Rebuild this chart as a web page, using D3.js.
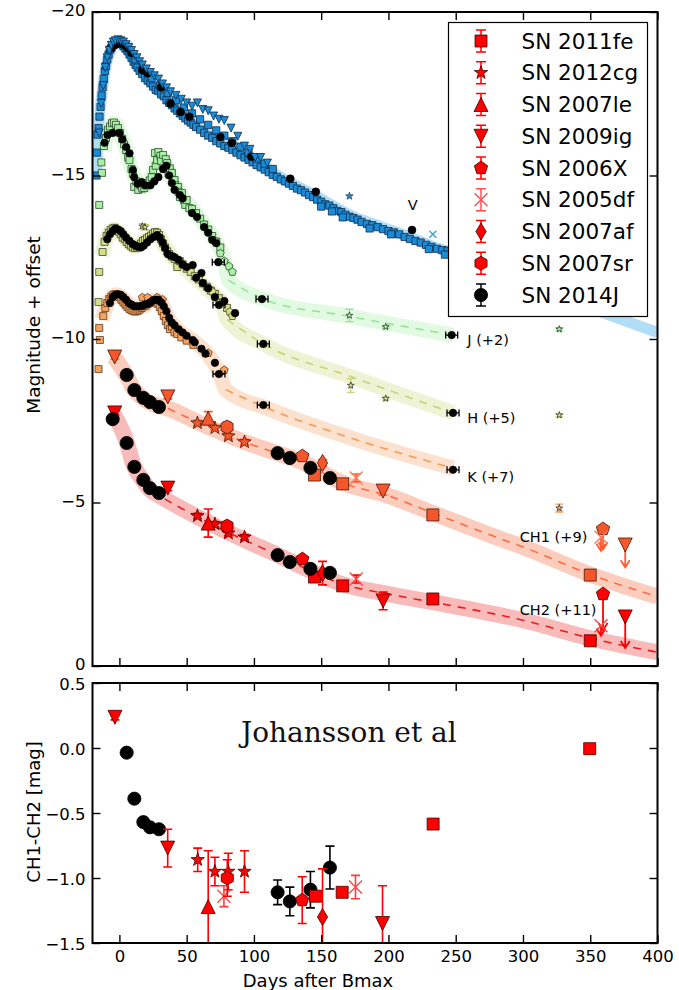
<!DOCTYPE html>
<html>
<head>
<meta charset="utf-8">
<script src="https://cdn.jsdelivr.net/npm/d3@7"></script>
<style>
  body { margin: 0; background: #fff; }
  svg { display: block; }
</style>
</head>
<body>
<svg id="chart" width="679" height="990"></svg>
<script>
// ---------------- axes ticks ----------------
const xTicks = [0, 50, 100, 150, 200, 250, 300, 350, 400];
const yTicksTop = [-20, -15, -10, -5, 0];
const yTicksBot = [0.5, 0.0, -0.5, -1.0, -1.5];

// ---------------- legend ----------------
const snNames   = ['SN 2011fe', 'SN 2012cg', 'SN 2007le', 'SN 2009ig', 'SN 2006X', 'SN 2005df', 'SN 2007af', 'SN 2007sr', 'SN 2014J'];
const snMarkers = ['square', 'star', 'tri_up', 'tri_down', 'pentagon', 'x', 'diamond', 'hexagon', 'circle'];

// ---------------- template bands [day, mag] ----------------
const vBand = [[-17,-15.0],[-15,-16.7],[-13,-17.5],[-10,-18.35],[-6,-18.88],[-2,-19.05],[2,-19.05],[6,-18.9],[10,-18.62],[15,-18.3],[20,-18.05],[25,-17.85],[30,-17.65],[40,-17.25],[50,-16.85],[60,-16.5],[70,-16.22],[80,-16.0],[90,-15.78],[100,-15.5],[110,-15.22],[120,-14.95],[130,-14.72],[145,-14.4],[160,-14.05],[175,-13.72],[190,-13.5],[205,-13.28],[220,-13.05],[235,-12.8],[250,-12.6],[300,-11.78],[350,-10.95],[400,-10.2]];
const jBand = [[-12,-15.75],[-8,-16.4],[-4,-16.6],[0,-16.35],[5,-15.8],[10,-15.1],[15,-14.72],[19,-14.65],[24,-14.98],[29,-15.5],[34,-15.35],[40,-14.85],[47,-14.35],[55,-13.95],[64,-13.45],[73,-12.9],[78,-12.4],[81,-11.8],[107,-11.22],[170,-10.7],[248,-10.12]];
const hBand = [[-13,-12.55],[-9,-13.15],[-4,-13.35],[2,-13.18],[8,-12.9],[12,-12.82],[18,-12.98],[24,-13.15],[28,-13.2],[33,-12.88],[40,-12.48],[48,-12.18],[58,-11.82],[68,-11.45],[76,-11.12],[80,-10.6],[107,-9.85],[172,-8.85],[248,-7.74]];
const kBand = [[-13,-10.6],[-8,-11.15],[-2,-11.35],[4,-11.2],[11,-10.95],[18,-11.0],[25,-11.18],[30,-11.18],[35,-10.75],[40,-10.42],[47,-10.15],[55,-9.95],[62,-9.7],[68,-9.4],[74,-9.0],[79,-8.45],[110,-7.88],[170,-7.0],[248,-6.05]];
const ch1Band = [[-4,-9.45],[5,-8.9],[11,-8.45],[17,-8.2],[22,-8.07],[28,-7.97],[36,-7.88],[58,-7.46],[93,-6.85],[118,-6.5],[135,-6.25],[166,-5.6],[200,-5.2],[233,-4.68],[280,-3.94],[300,-3.64],[350,-2.8],[400,-2.12]];
const ch2Band = [[-5,-7.75],[5,-6.9],[10.5,-6.15],[17,-5.7],[23,-5.38],[30,-5.2],[58,-4.56],[93,-3.85],[118,-3.39],[135,-3.05],[166,-2.5],[200,-2.2],[233,-1.95],[280,-1.58],[300,-1.4],[350,-0.85],[400,-0.42]];
// day from which each template is drawn dashed
const jDashFrom = 81, hDashFrom = 80, kDashFrom = 79, ch1DashFrom = 30, ch2DashFrom = 15;

// ---------------- V band photometry ----------------
const vSquares = [[-17,-15.0],[-16.8,-15.7],[-16.2,-16.25],[-15.5,-16.45],[-14.8,-16.8],[-14,-17.1],[-13.2,-17.45],[-12.5,-17.7],[-11.6,-17.95],[-10.8,-18.2],[-10,-18.35],[-9,-18.55],[-8,-18.7],[-7,-18.85],[-6,-18.9],[-5,-18.98],[-4,-19.02],[-3,-19.05],[-1.5,-19.08],[0,-19.04],[1.5,-19.02],[3,-18.95],[4.5,-18.88],[6,-18.8],[7.5,-18.7],[9,-18.6],[10.5,-18.48],[12,-18.38],[13.5,-18.3],[15,-18.2],[17,-18.1],[19,-17.98],[21,-17.9],[23,-17.82],[25,-17.72],[27,-17.62],[29,-17.58],[31,-17.48],[33,-17.42],[35,-17.3],[37,-17.22],[39,-17.15],[41,-17.05],[43,-16.98],[45,-16.9],[47,-16.82],[49,-16.75],[51,-16.68],[53,-16.62],[55,-16.55],[57,-16.48],[60,-16.4],[63,-16.3],[66,-16.22],[69,-16.15],[72,-16.05],[75,-15.98],[78,-15.9],[81,-15.85],[84,-15.78],[87,-15.7],[90,-15.62],[93,-15.55],[96,-15.48],[99,-15.4],[102,-15.32],[105,-15.25],[108,-15.18],[111,-15.1],[114,-15.02],[117,-14.96],[120,-14.88],[123,-14.82],[126,-14.75],[129,-14.68],[132,-14.6],[135,-14.55],[138,-14.48],[141,-14.4],[144,-14.34],[147,-14.26],[150,-14.2],[153,-14.12],[156,-14.08],[159,-14.0],[162,-13.92],[165,-13.88],[168,-13.8],[171,-13.74],[174,-13.7],[177,-13.65],[180,-13.58],[184,-13.52],[188,-13.48],[192,-13.42],[196,-13.36],[200,-13.3],[204,-13.26],[208,-13.2],[212,-13.12],[216,-13.06],[220,-13.0],[224,-12.95],[228,-12.88],[232,-12.82],[236,-12.76],[240,-12.72],[244,-12.7],[248,-12.66],
  [12,-18.55],[18,-18.25],[24,-17.98],[30,-17.75],[36,-17.52],[42,-17.3],[48,-17.08],[54,-16.9],[60,-16.72],[66,-16.55],[72,-16.38],[78,-16.22],[84,-16.05],[90,-15.88],[96,-15.7],[102,-15.52],[108,-15.36],[114,-15.2],[150,-14.05],[158,-13.9],[166,-13.72],[186,-13.38],[202,-13.2],[230,-12.75],[242,-12.58]];
const vTriangles = [[-15,-16.3],[-13.5,-17.2],[-12,-17.75],[-10.5,-18.3],[-9,-18.6],[-7.5,-18.82],[-6,-18.98],[-4.5,-19.08],[-3,-19.12],[-1,-19.15],[1,-19.12],[3,-19.08],[5,-19.0],[7,-18.92],[9,-18.82],[11,-18.7],[13,-18.6],[15,-18.48],[17,-18.38],[20,-18.26],[23,-18.15],[26,-18.05],[29,-17.95],[32,-17.8],[35,-17.68],[38,-17.56],[42,-17.45],[46,-17.33],[50,-17.22],[54,-17.12],[58,-17.22],[62,-17.02],[66,-16.98],[70,-16.82],[74,-16.72],[78,-16.68],[83,-16.45],[88,-16.2],[93,-15.9],[97,-15.8],[101,-15.55],[105,-15.55],[110,-15.38]];
const vBlack = [[-6,-18.9],[-3,-19.0],[0,-19.05],[3,-19.0],[6,-18.9],[9,-18.75],[17,-18.23],[21,-18.13],[31,-17.7],[38,-17.2],[45.5,-16.94],[52,-16.8],[75,-16.18],[83.5,-16.0],[98,-15.57],[127,-14.9],[146,-14.5],[217.5,-13.33]];
const vStars = [[171,-14.37]];
const vCrosses = [[233,-13.2]];

// ---------------- J (+2) ----------------
const jSquares = [[-15,-14.1],[-13.4,-15.4],[-13,-15.08],[-11.5,-15.9],[-10,-16.15],[-8.5,-16.4],[-7,-16.5],[-5.5,-16.6],[-4,-16.62],[-2.5,-16.55],[-1,-16.45],[0.5,-16.3],[2,-16.12],[3.5,-15.95],[5,-15.78],[6.5,-15.55],[7.5,-15.47],[9,-15.2],[10,-15.05],[11,-14.65],[12.5,-14.82],[14,-14.56],[15.5,-14.7],[17,-14.6],[18.5,-14.62],[20,-14.7],[21,-14.77],[22.5,-14.85],[24,-14.95],[25,-15.17],[26.4,-15.69],[27,-15.3],[28,-15.47],[29,-15.72],[30.5,-15.6],[31,-15.45],[32.5,-15.63],[33,-15.2],[34.5,-15.5],[35.5,-15.38],[36.5,-15.05],[37.5,-15.22],[39,-15.08],[39.5,-14.85],[41,-14.86],[41.5,-14.7],[43.6,-14.65],[44,-14.5],[45,-14.34],[46.5,-14.46],[48,-14.25],[49,-14.1],[50,-14.25],[52,-14.0],[54,-13.98],[57,-13.85],[60,-13.68],[63,-13.5],[66,-13.35],[69,-13.15],[72,-12.98],[75,-12.8]];
const jPentagons = [[71,-13.0],[75,-12.62],[78,-12.38],[81.5,-12.22],[84,-12.05]];
const jBlack = [[-11,-16.0],[-8.8,-16.24],[-5,-16.3],[0,-16.3],[2.3,-16.1],[5,-15.87],[7.5,-15.68],[10,-15.17],[11,-14.95],[13.5,-14.75],[16.5,-14.8],[19,-14.7],[23,-14.7],[26,-14.82],[29,-14.95],[32.5,-15.2],[35,-15.3],[37,-15.0],[39,-14.77],[41,-14.56],[45,-14.4],[47,-14.3],[54,-13.85],[57.7,-13.73],[63,-13.42],[66,-13.25],[69,-13.03],[72,-12.93]];
const jBlackErr = [[73.5,-12.35],[106,-11.22],[247,-10.12]];
const jStars = [[171,-10.72,0.19],[198,-10.37,0.04],[327,-10.3,0.05]];

// ---------------- H (+5) ----------------
const hSquares = [[-15,-12.05],[-15.5,-11.13],[-12.5,-12.66],[-11,-12.97],[-9.5,-13.15],[-8,-13.25],[-6.5,-13.33],[-5,-13.38],[-3.5,-13.4],[-2,-13.32],[-0.5,-13.28],[1,-13.2],[2.5,-13.1],[4,-13.05],[5.5,-12.97],[7,-12.9],[8.5,-12.85],[10,-12.8],[11.5,-12.78],[13,-12.8],[14.5,-12.86],[16,-12.92],[17.5,-13.0],[19,-13.03],[20.5,-13.08],[22,-13.12],[23.5,-13.16],[25,-13.22],[26.5,-13.27],[28,-13.25],[29.5,-13.18],[31,-13.05],[32.5,-12.92],[34,-12.8],[35.5,-12.68],[37,-12.6],[39,-12.52],[41,-12.45],[43,-12.2],[45,-12.38],[47,-12.28],[50,-12.15],[53,-12.05],[56,-11.92],[59,-11.82],[62,-11.7],[65,-11.6],[68,-11.48],[71,-11.38],[74,-11.25],[77,-11.12],[80,-10.95]];
const hPentagons = [[66,-11.56],[69,-11.45],[82,-10.83],[84,-10.7]];
const hBlack = [[-9,-13.05],[-7,-13.2],[-5,-13.3],[-3,-13.38],[-1,-13.35],[1,-13.3],[3,-13.2],[5,-13.1],[7.5,-13.0],[10,-12.9],[12,-12.85],[14,-12.82],[16,-12.8],[18,-12.85],[20.5,-12.95],[23,-13.05],[25.5,-13.12],[28,-13.18],[30,-13.1],[32,-12.95],[34,-12.78],[36,-12.6],[38,-12.55],[41,-12.5],[44,-12.42],[47,-12.28],[50,-12.2],[54.5,-12.26],[57,-11.87],[61,-12.02],[62,-11.71],[66,-11.55],[71,-11.28],[78,-11.16],[86,-10.79]];
const hBlackErr = [[74,-11.04],[107,-9.85],[248,-7.74]];
const hStars = [[17,-13.45,0.08],[19,-13.42,0.08],[172,-8.58,0.21],[198,-8.18,0.04],[327,-7.67,0.05]];

// ---------------- K (+7) ----------------
const kSquares = [[-15,-10.34],[-14.5,-9.97],[-15.5,-9.08],[-12,-10.7],[-10.5,-10.95],[-9,-11.1],[-7.5,-11.22],[-6,-11.3],[-4.5,-11.35],[-3,-11.37],[-1.5,-11.33],[0,-11.28],[1.5,-11.2],[3,-11.12],[4.5,-11.05],[6,-10.98],[7.5,-10.92],[9,-10.88],[10.5,-10.85],[12,-10.84],[13.5,-10.86],[15,-10.9],[16.5,-10.95],[18,-11.0],[19.5,-11.02],[21,-11.07],[22.5,-11.1],[24,-11.15],[25.5,-11.18],[27,-11.15],[28.5,-11.08],[30,-10.98],[31.5,-10.85],[33,-10.7],[34.5,-10.55],[36,-10.42],[37.5,-10.3],[39,-10.38],[41,-10.2],[43,-10.15],[46,-10.05],[50,-9.95],[55,-9.82]];
const kPentagons = [[17,-11.27],[21,-11.27],[28,-11.27],[32,-11.2],[66,-9.57],[78,-9.05]];
const kBlack = [[-7,-11.1],[-5,-11.28],[-3,-11.35],[-1,-11.37],[1,-11.35],[3,-11.28],[5,-11.2],[7,-11.1],[9,-11.05],[11,-11.0],[13,-11.0],[15,-11.0],[17,-11.02],[19,-11.05],[21,-11.08],[23,-11.12],[25,-11.18],[27,-11.2],[29,-11.2],[31,-11.12],[33,-11.0],[35,-10.85],[37,-10.65],[39,-10.5],[41,-10.42],[44,-10.3],[47,-10.2],[50,-10.1],[54.5,-9.97],[56,-9.9],[61,-9.7],[64,-9.55],[71,-9.27]];
const kBlackErr = [[74,-8.93],[107,-7.98],[248,-6.0]];
const kStars = [[327,-4.83,0.12]];

// ---------------- Spitzer CH1 (+9) / CH2 (+11): [SN, day, mag, err] ----------------
const ch1Points = [
  ['SN 2009ig', -3.5, -9.45, 0.06], ['SN 2009ig', 36, -8.23, 0.06], ['SN 2009ig', 196, -5.35, 0.12],
  ['SN 2012cg', 58, -7.43, 0.08], ['SN 2012cg', 71, -7.28, 0.08], ['SN 2012cg', 81, -7.03, 0.08], ['SN 2012cg', 93, -6.85, 0.08],
  ['SN 2007le', 66, -7.58, 0.2], ['SN 2007sr', 80, -7.31, 0.15],
  ['SN 2006X', 136, -6.42, 0.08], ['SN 2007af', 151, -6.21, 0.1], ['SN 2005df', 176, -5.75, 0.12],
  ['SN 2011fe', 145, -5.84, 0], ['SN 2011fe', 166, -5.57, 0], ['SN 2011fe', 233, -4.62, 0], ['SN 2011fe', 350, -2.78, 0],
  ['SN 2014J', 5.4, -8.9, 0], ['SN 2014J', 11.1, -8.44, 0], ['SN 2014J', 17.8, -8.2, 0], ['SN 2014J', 22.7, -8.07, 0], ['SN 2014J', 29.4, -7.92, 0],
  ['SN 2014J', 117.6, -6.51, 0], ['SN 2014J', 126.7, -6.36, 0], ['SN 2014J', 142, -6.06, 0], ['SN 2014J', 156.5, -5.75, 0]
];
const ch2Points = [
  ['SN 2009ig', -3.5, -7.74, 0.06], ['SN 2009ig', 36, -5.44, 0.08], ['SN 2009ig', 196, -1.99, 0.27],
  ['SN 2012cg', 58, -4.59, 0.08], ['SN 2012cg', 71, -4.34, 0.08], ['SN 2012cg', 81, -4.06, 0.08], ['SN 2012cg', 93, -3.94, 0.08],
  ['SN 2007le', 66, -4.37, 0.43], ['SN 2007sr', 80, -4.28, 0.12],
  ['SN 2006X', 136, -3.27, 0.08], ['SN 2007af', 151, -2.84, 0.36], ['SN 2005df', 176, -2.66, 0.12],
  ['SN 2011fe', 145, -2.72, 0], ['SN 2011fe', 166, -2.45, 0], ['SN 2011fe', 233, -2.05, 0], ['SN 2011fe', 350, -0.77, 0],
  ['SN 2014J', -5, -7.55, 0], ['SN 2014J', 5.4, -6.82, 0], ['SN 2014J', 11.1, -6.09, 0], ['SN 2014J', 17.8, -5.69, 0], ['SN 2014J', 22.7, -5.44, 0], ['SN 2014J', 29.4, -5.29, 0],
  ['SN 2014J', 117.6, -3.39, 0], ['SN 2014J', 126.7, -3.18, 0], ['SN 2014J', 142, -2.97, 0], ['SN 2014J', 156.5, -2.85, 0]
];
// upper limits: [SN, day, mag, arrow length in mag]
const ch1Limits = [['SN 2006X', 359.5, -4.19, 0.62], ['SN 2005df', 358, -3.94, 0.42], ['SN 2009ig', 376, -3.7, 0.68]];
const ch2Limits = [['SN 2006X', 359.5, -2.2, 1.1], ['SN 2005df', 358, -1.23, 0.3], ['SN 2009ig', 376, -1.5, 0.95]];

// ---------------- CH1 - CH2 colour: [SN, day, colour, err] ----------------
const diffPoints = [
  ['SN 2014J', 5.4, -0.036, 0], ['SN 2014J', 11.1, -0.39, 0], ['SN 2014J', 17.8, -0.57, 0], ['SN 2014J', 22.7, -0.61, 0], ['SN 2014J', 29.4, -0.625, 0],
  ['SN 2014J', 117.6, -1.11, 0.095], ['SN 2014J', 126.7, -1.18, 0.11], ['SN 2014J', 142, -1.09, 0.14], ['SN 2014J', 156.5, -0.92, 0.165],
  ['SN 2009ig', -3.3, 0.236, 0.02], ['SN 2009ig', 35.9, -0.77, 0.145], ['SN 2009ig', 195.6, -1.35, 0.29],
  ['SN 2012cg', 58.2, -0.86, 0.09], ['SN 2012cg', 71, -0.95, 0.11], ['SN 2012cg', 80.9, -0.95, 0.14], ['SN 2012cg', 93, -0.95, 0.16],
  ['SN 2007le', 66, -1.22, 0.43],
  ['SN 2005df', 77.7, -1.14, 0.08], ['SN 2005df', 175.5, -1.07, 0.09],
  ['SN 2007sr', 80.2, -1.0, 0.14],
  ['SN 2006X', 135.9, -1.17, 0.18],
  ['SN 2007af', 151, -1.3, 0.37],
  ['SN 2011fe', 145.8, -1.14, 0], ['SN 2011fe', 165.6, -1.11, 0], ['SN 2011fe', 233.2, -0.585, 0], ['SN 2011fe', 349.6, -0.005, 0.03]
];

// text anchors placed in data units: [text, day, mag]
const bandLabels = [['V', 218.1, -14.1], ['J (+2)', 258.6, -9.97], ['H (+5)', 258.6, -7.58], ['K (+7)', 258.6, -5.79], ['CH1 (+9)', 297.6, -3.955], ['CH2 (+11)', 297.6, -1.713]];

// =====================================================================
const svg = d3.select('#chart');
const FONT = 'DejaVu Sans, Liberation Sans, sans-serif';

const x = d3.scaleLinear().domain([-20, 400]).range([92.5, 657.5]);
const yTop = d3.scaleLinear().domain([-20, 0]).range([12, 666]);
const yBot = d3.scaleLinear().domain([0.5, -1.5]).range([683, 943]);

const COL = {
  V:   { fill: '#1c8bd6', stroke: '#0c2c4c', band: 'rgba(125,198,240,0.6)' },
  J:   { fill: '#a8f0a4', stroke: '#2e4a2e', band: 'rgba(165,238,165,0.32)', dash: '#94e494' },
  H:   { fill: '#d6dd8a', stroke: '#48482a', band: 'rgba(212,222,140,0.36)', dash: '#c9d274' },
  K:   { fill: '#f7a25c', stroke: '#5a3a20', band: 'rgba(250,180,135,0.40)', dash: '#f79a55' },
  CH1: { fill: '#f4572b', stroke: '#4a1508', err: '#ff5a30', cross: '#ff7a5a', band: 'rgba(250,160,128,0.52)', dash: '#ff6a40' },
  CH2: { fill: '#ff0000', stroke: '#4a0000', err: '#ff0000', cross: '#ff4a4a', band: 'rgba(244,130,130,0.55)', dash: '#ee1a1a' }
};

// marker outlines, centred on the origin
function shape(type, r) {
  const poly = (n, rr) => d3.range(n).map(i => {
    const a = -Math.PI / 2 + i * 2 * Math.PI / n;
    return [rr * Math.cos(a), rr * Math.sin(a)];
  });
  const toPath = pts => 'M' + pts.map(p => p[0].toFixed(2) + ',' + p[1].toFixed(2)).join('L') + 'Z';
  switch (type) {
    case 'square':   return `M${-r},${-r}H${r}V${r}H${-r}Z`;
    case 'circle':   return `M${r},0A${r},${r} 0 1,1 ${-r},0A${r},${r} 0 1,1 ${r},0Z`;
    case 'tri_up':   return `M0,${-r}L${r},${r}L${-r},${r}Z`;
    case 'tri_down': return `M0,${r}L${r},${-r}L${-r},${-r}Z`;
    case 'pentagon': return toPath(poly(5, r));
    case 'hexagon':  return toPath(poly(6, r));
    case 'diamond':  return `M0,${-r}L${0.6 * r},0L0,${r}L${-0.6 * r},0Z`;
    case 'star': {
      const pts = d3.range(10).map(i => {
        const a = -Math.PI / 2 + i * Math.PI / 5, rr = i % 2 ? r * 0.4 : r;
        return [rr * Math.cos(a), rr * Math.sin(a)];
      });
      return toPath(pts);
    }
    case 'x': return `M${-r},${-r}L${r},${r}M${r},${-r}L${-r},${r}`;
  }
}
const markerSize = { square: 6, circle: 6.6, tri_up: 7, tri_down: 7, pentagon: 7, hexagon: 7, diamond: 8.5, star: 7, x: 6.5 };

function drawPts(g, pts, yS, o) {
  const isX = o.type === 'x';
  g.append('g').selectAll('path').data(pts).join('path')
    .attr('transform', d => `translate(${x(d[0])},${yS(d[1])})`)
    .attr('d', shape(o.type, o.r))
    .attr('fill', isX ? 'none' : o.fill)
    .attr('stroke', isX ? o.fill : o.stroke)
    .attr('stroke-width', isX ? 1.4 : (o.sw || 0.8));
}

function drawErr(g, day, val, err, yS, color, cap, sw) {
  if (!err) return;
  const cx = x(day), y1 = yS(val - err), y2 = yS(val + err);
  g.append('path')
    .attr('d', `M${cx},${y1}V${y2}M${cx - cap},${y1}H${cx + cap}M${cx - cap},${y2}H${cx + cap}`)
    .attr('stroke', color).attr('stroke-width', sw || 1.5).attr('fill', 'none');
}

// black photometry points carrying a short horizontal error bar
function drawHErr(g, pts, yS) {
  g.append('g').selectAll('path').data(pts).join('path')
    .attr('d', d => {
      const cx = x(d[0]), cy = yS(d[1]);
      return `M${cx - 6},${cy}H${cx + 6}M${cx - 6},${cy - 3.5}V${cy + 3.5}M${cx + 6},${cy - 3.5}V${cy + 3.5}`;
    })
    .attr('stroke', '#000').attr('stroke-width', 1.3).attr('fill', 'none');
  drawPts(g, pts, yS, { type: 'circle', r: 3.8, fill: '#000', stroke: '#000', sw: 0.5 });
}

const bandLine = yS => d3.line().x(d => x(d[0])).y(d => yS(d[1])).curve(d3.curveMonotoneX);

function drawBand(g, band, yS, color, width, dashFrom, dashColor) {
  g.append('path').attr('d', bandLine(yS)(band))
    .attr('fill', 'none').attr('stroke', color).attr('stroke-width', width)
    .attr('stroke-linejoin', 'round');
  if (dashFrom !== undefined) {
    g.append('path').attr('d', bandLine(yS)(band.filter(d => d[0] >= dashFrom)))
      .attr('fill', 'none').attr('stroke', dashColor).attr('stroke-width', 1.6)
      .attr('stroke-dasharray', '8,7');
  }
}

// ---------------- clip regions ----------------
const defs = svg.append('defs');
defs.append('clipPath').attr('id', 'clipTop').append('rect')
  .attr('x', 92.5).attr('y', 12).attr('width', 565).attr('height', 654);
defs.append('clipPath').attr('id', 'clipBot').append('rect')
  .attr('x', 92.5).attr('y', 683).attr('width', 565).attr('height', 260);

// =============== TOP PANEL ===============
const topG = svg.append('g').attr('clip-path', 'url(#clipTop)');

// templates
drawBand(topG, vBand, yTop, COL.V.band, 11);
drawBand(topG, jBand, yTop, COL.J.band, 15, jDashFrom, COL.J.dash);
drawBand(topG, hBand, yTop, COL.H.band, 15, hDashFrom, COL.H.dash);
drawBand(topG, kBand, yTop, COL.K.band, 15, kDashFrom, COL.K.dash);
drawBand(topG, ch1Band, yTop, COL.CH1.band, 16, ch1DashFrom, COL.CH1.dash);
drawBand(topG, ch2Band, yTop, COL.CH2.band, 16, ch2DashFrom, COL.CH2.dash);

// V
drawPts(topG, vSquares, yTop, { type: 'square', r: 3.6, fill: COL.V.fill, stroke: COL.V.stroke });
drawPts(topG, vBlack, yTop, { type: 'circle', r: 4, fill: '#000', stroke: '#000', sw: 0.5 });
drawPts(topG, vTriangles, yTop, { type: 'tri_down', r: 4, fill: COL.V.fill, stroke: COL.V.stroke });
drawPts(topG, vStars, yTop, { type: 'star', r: 4, fill: COL.V.fill, stroke: COL.V.stroke, sw: 0.6 });
drawPts(topG, vCrosses, yTop, { type: 'x', r: 3.5, fill: '#3aa0e8' });

// J, H, K
[[jSquares, jPentagons, jBlack, jBlackErr, jStars, COL.J],
 [hSquares, hPentagons, hBlack, hBlackErr, hStars, COL.H],
 [kSquares, kPentagons, kBlack, kBlackErr, kStars, COL.K]].forEach(([sq, pe, bl, be, st, c]) => {
  drawPts(topG, sq, yTop, { type: 'square', r: 3.5, fill: c.fill, stroke: c.stroke, sw: 0.8 });
  drawPts(topG, pe, yTop, { type: 'pentagon', r: 4.2, fill: c.fill, stroke: c.stroke, sw: 0.8 });
  drawPts(topG, bl, yTop, { type: 'circle', r: 3.8, fill: '#000', stroke: '#000', sw: 0.5 });
  drawHErr(topG, be, yTop);
  st.forEach(d => drawErr(topG, d[0], d[1], d[2], yTop, c.dash, 4, 1.3));
  drawPts(topG, st, yTop, { type: 'star', r: 3.6, fill: c.fill, stroke: '#222', sw: 0.7 });
});

// Spitzer channels
function drawChannel(g, pts, limits, c) {
  const order = snNames.filter(n => n !== 'SN 2014J').concat(['SN 2014J']);
  order.forEach(name => {
    const type = snMarkers[snNames.indexOf(name)];
    const sel = pts.filter(p => p[0] === name);
    const black = name === 'SN 2014J';
    sel.forEach(p => drawErr(g, p[1], p[2], p[3], yTop, black ? '#000' : c.err, 4.5, 1.6));
    drawPts(g, sel.map(p => [p[1], p[2]]), yTop, {
      type, r: markerSize[type],
      fill: black ? '#000' : (type === 'x' ? c.cross : c.fill),
      stroke: black ? '#000' : c.stroke, sw: 0.8
    });
  });
  limits.forEach(([name, day, mag, len]) => {
    const type = snMarkers[snNames.indexOf(name)];
    const cx = x(day), y0 = yTop(mag), y1 = yTop(mag + len);
    g.append('path')
      .attr('d', `M${cx},${y0}V${y1}M${cx - 4.5},${y1 - 7}L${cx},${y1}L${cx + 4.5},${y1 - 7}`)
      .attr('stroke', c.err).attr('stroke-width', 1.8).attr('fill', 'none');
    drawPts(g, [[day, mag]], yTop, {
      type, r: markerSize[type], fill: type === 'x' ? c.cross : c.fill, stroke: c.stroke, sw: 0.8
    });
  });
}
drawChannel(topG, ch1Points, ch1Limits, COL.CH1);
drawChannel(topG, ch2Points, ch2Limits, COL.CH2);

// band labels
svg.append('g').selectAll('text').data(bandLabels).join('text')
  .attr('x', d => x(d[1])).attr('y', d => yTop(d[2]))
  .attr('dy', '0.36em')
  .attr('text-anchor', d => d[0] === 'V' ? 'middle' : 'start')
  .attr('font-family', FONT).attr('font-size', 14.5).attr('fill', '#000')
  .text(d => d[0]);

// =============== BOTTOM PANEL ===============
const botG = svg.append('g').attr('clip-path', 'url(#clipBot)');
const botOrder = ['SN 2014J'].concat(snNames.filter(n => n !== 'SN 2014J'));
botOrder.forEach(name => {
  const type = snMarkers[snNames.indexOf(name)];
  const sel = diffPoints.filter(p => p[0] === name);
  const black = name === 'SN 2014J';
  const ec = black ? '#000' : (type === 'x' ? '#ff3a3a' : '#ff0000');
  sel.forEach(p => drawErr(botG, p[1], p[2], p[3], yBot, ec, 4.5, 1.6));
  drawPts(botG, sel.map(p => [p[1], p[2]]), yBot, {
    type, r: markerSize[type],
    fill: black ? '#000' : (type === 'x' ? '#ff4a4a' : '#ff0000'),
    stroke: black ? '#000' : '#4a0000', sw: 0.8
  });
});

svg.append('text')
  .attr('x', 241).attr('y', 741.5)
  .attr('font-family', 'DejaVu Serif, Liberation Serif, serif')
  .attr('font-size', 28).attr('fill', '#111')
  .text('Johansson et al');

// =============== AXES ===============
function styleAxis(g) {
  g.select('.domain').remove();
  g.selectAll('.tick line').attr('stroke', '#000').attr('stroke-width', 1.4);
  g.selectAll('.tick text').attr('font-family', FONT).attr('font-size', 16.5).attr('fill', '#000');
}
function frame(y0, y1, yS, yTicks, yFmt, showX, labelShift) {
  svg.append('g').attr('transform', `translate(92.5,0)`)
    .call(d3.axisLeft(yS).tickValues(yTicks).tickSize(-8).tickPadding(7).tickFormat(yFmt))
    .call(styleAxis)
    .call(g => g.selectAll('.tick text').attr('dy', labelShift));
  svg.append('g').attr('transform', `translate(657.5,0)`)
    .call(d3.axisRight(yS).tickValues(yTicks).tickSize(-8).tickFormat(''))
    .call(styleAxis);
  svg.append('g').attr('transform', `translate(0,${y0})`)
    .call(d3.axisTop(x).tickValues(xTicks).tickSize(-8).tickFormat(''))
    .call(styleAxis);
  svg.append('g').attr('transform', `translate(0,${y1})`)
    .call(d3.axisBottom(x).tickValues(xTicks).tickSize(-8).tickPadding(7).tickFormat(showX ? d3.format('d') : ''))
    .call(styleAxis);
  svg.append('rect').attr('x', 92.5).attr('y', y0).attr('width', 565).attr('height', y1 - y0)
    .attr('fill', 'none').attr('stroke', '#000').attr('stroke-width', 2);
}
frame(12, 666, yTop, yTicksTop, d3.format('d'), false, '0.22em');
frame(683, 943, yBot, yTicksBot, d3.format('.1f'), true, '0.42em');

// axis titles
svg.append('text').attr('transform', 'translate(40,325) rotate(-90)')
  .attr('text-anchor', 'middle').attr('font-family', FONT).attr('font-size', 18.5)
  .text('Magnitude + offset');
svg.append('text').attr('transform', 'translate(40,812) rotate(-90)')
  .attr('text-anchor', 'middle').attr('font-family', FONT).attr('font-size', 18)
  .text('CH1-CH2 [mag]');
svg.append('text').attr('x', 318).attr('y', 987)
  .attr('text-anchor', 'middle').attr('font-family', FONT).attr('font-size', 18)
  .text('Days after Bmax');

// =============== LEGEND ===============
const leg = svg.append('g');
leg.append('rect').attr('x', 448.5).attr('y', 22.5).attr('width', 199).attr('height', 294)
  .attr('fill', '#fff').attr('stroke', '#000').attr('stroke-width', 1.2);
snNames.forEach((name, i) => {
  const cy = 41 + i * 31.75, cx = 481;
  const type = snMarkers[i];
  const black = name === 'SN 2014J';
  const ec = black ? '#000' : (type === 'x' ? '#ff5050' : '#ff0000');
  leg.append('path')
    .attr('d', `M${cx},${cy - 11}V${cy + 11}M${cx - 5},${cy - 11}H${cx + 5}M${cx - 5},${cy + 11}H${cx + 5}`)
    .attr('stroke', ec).attr('stroke-width', 1.5).attr('fill', 'none');
  leg.append('path').attr('transform', `translate(${cx},${cy})`)
    .attr('d', shape(type, markerSize[type]))
    .attr('fill', type === 'x' ? 'none' : (black ? '#000' : '#ff0000'))
    .attr('stroke', type === 'x' ? '#ff5050' : (black ? '#000' : '#4a0000'))
    .attr('stroke-width', type === 'x' ? 1.4 : 0.8);
  leg.append('text').attr('x', 521.5).attr('y', cy).attr('dy', '0.36em')
    .attr('font-family', FONT).attr('font-size', 21.5).attr('fill', '#000')
    .text(name);
});
</script>
</body>
</html>
